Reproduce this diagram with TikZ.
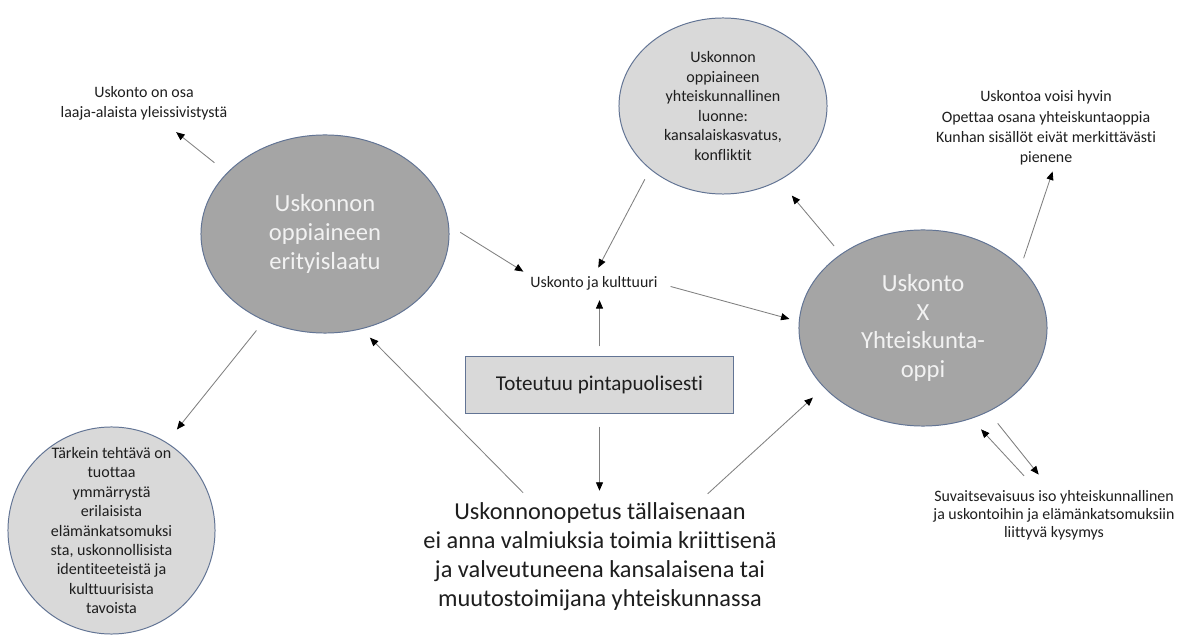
\documentclass[tikz,border=0pt]{standalone}
\usepackage{fontspec}
\setmainfont{Carlito}[Ligatures=NoCommon]
\usetikzlibrary{arrows.meta,shapes.geometric}
\definecolor{ovalline}{RGB}{98,116,148}
\definecolor{darkfill}{RGB}{165,165,165}
\definecolor{lightfill}{RGB}{217,217,217}
\definecolor{txt}{RGB}{30,30,30}
\definecolor{arrgray}{RGB}{128,128,128}

\begin{document}
\begin{tikzpicture}[x=0.025cm, y=-0.025cm, >={Triangle[length=6pt,width=5pt,color=black]},
		bigoval/.style={ellipse, draw=ovalline, line width=0.7pt, fill=darkfill, text=white!95!black, align=center, inner sep=0pt, font=\fontsize{17.5}{20.5}\selectfont},
		smalloval/.style={ellipse, draw=ovalline, line width=0.7pt, fill=lightfill, text=txt, align=center, inner sep=0pt, font=\fontsize{11.4}{13.8}\selectfont},
		note/.style={text=txt, align=center, inner sep=0pt, font=\fontsize{11.3}{14.2}\selectfont},
		arr/.style={->, draw=arrgray, line width=0.6pt}]
		\useasboundingbox[fill=white] (0,0) rectangle (1192,635);

		% Ovals
		\node[bigoval, minimum width=6.2cm, minimum height=4.95cm] (spec) at (325,234) {Uskonnon\\oppiaineen\\erityislaatu};
		\node[bigoval, minimum width=6.2cm, minimum height=4.9cm] (soc) at (923,328) {Uskonto\\X\\Yhteiskunta-\\oppi};
		\node[smalloval, minimum width=5.2cm, minimum height=4.4cm] (civic) at (723,106) {Uskonnon\\oppiaineen\\yhteiskunnallinen\\luonne:\\kansalaiskasvatus,\\konfliktit};
		\node[smalloval, circle, minimum size=5.175cm] (task) at (111.5,530.5) {Tärkein tehtävä on\\tuottaa\\ymmärrystä\\erilaisista\\elämänkatsomuksi\\sta, uskonnollisista\\identiteeteistä ja\\kulttuurisista\\tavoista};

		% Box and plain texts
		\node[draw=ovalline, line width=0.7pt, fill=lightfill, text=txt, minimum width=6.675cm, minimum height=1.4cm, font=\fontsize{15}{17}\selectfont] (shallow) at (599.5,385) {Toteutuu pintapuolisesti};
		\node[note] (general) at (144,103) {Uskonto on osa\\laaja-alaista yleissivistystä};
		\node[note] (culture) at (594,283) {Uskonto ja kulttuuri};
		\node[note, font=\fontsize{11.3}{14.4}\selectfont] (teach) at (1046,128) {Uskontoa voisi hyvin\\Opettaa osana yhteiskuntaoppia\\Kunhan sisällöt eivät merkittävästi\\pienene};
		\node[note, font=\fontsize{11.3}{12.8}\selectfont] (toler) at (1054,515) {Suvaitsevaisuus iso yhteiskunnallinen\\ja uskontoihin ja elämänkatsomuksiin\\liittyvä kysymys};
		\node[note, font=\fontsize{17.3}{20.6}\selectfont] (lack) at (600,557) {Uskonnonopetus tällaisenaan\\ei anna valmiuksia toimia kriittisenä\\ja valveutuneena kansalaisena tai\\muutostoimijana yhteiskunnassa};

		% Arrows around the left oval
		\draw[arr, shorten <=0.4cm, shorten >=0.48cm] (spec.148) -- (general.-45);
		\draw[arr, shorten <=0.31cm, shorten >=0.41cm] (spec.235) -- (task.58);
		\draw[arr, shorten <=0.33cm, shorten >=0.2cm] (spec.4) -- (culture.north west);
		\draw[arr, shorten <=0.35cm, shorten >=0.3cm] (lack.141) -- (spec.-69);

		% Arrows in the middle
		\draw[arr, shorten <=0.28cm, shorten >=0.23cm] (civic.221) -- (culture.north);
		\draw[arr, shorten <=0.25cm, shorten >=0.25cm] (shallow.north) -- (shallow.north |- culture.south);
		\draw[arr, shorten <=0.33cm, shorten >=0.3cm] (shallow.south) -- (shallow.south |- lack.north);
		\draw[arr, shorten <=0.33cm, shorten >=0.24cm] (culture.east) -- (soc.177);
		\draw[arr, shorten <=0.33cm, shorten >=0.37cm] (lack.29) -- (soc.211);

		% Arrows around the right oval
		\draw[arr, shorten <=0.26cm, shorten >=0.49cm] (soc.138) -- (civic.-53);
		\draw[arr, shorten <=0.23cm, shorten >=0.16cm] (soc.32) -- (teach.-77);
		\draw[arr, shorten <=0.48cm, shorten >=0.36cm] (toler.124) -- (soc.-62);
		\draw[arr, shorten <=0.37cm, shorten >=0.49cm] (soc.-52) -- (toler.97);
	\end{tikzpicture}
\end{document}
